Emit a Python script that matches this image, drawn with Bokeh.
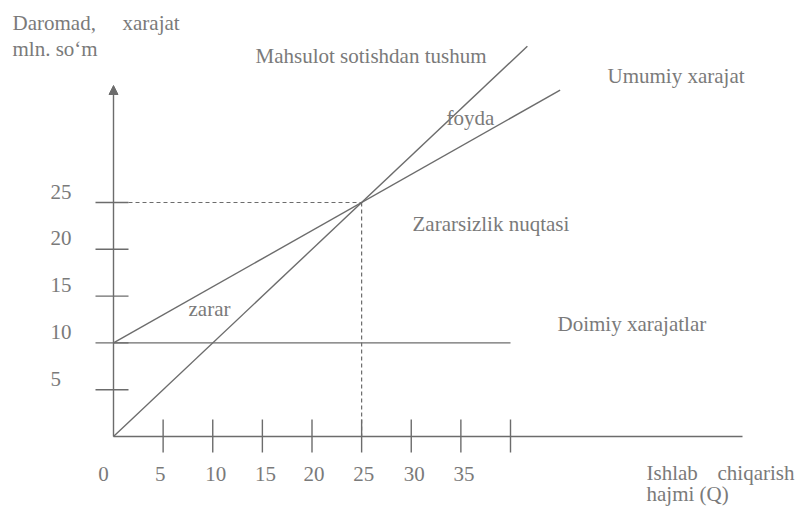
from bokeh.plotting import figure
from bokeh.models import Range1d, Arrow, NormalHead, ColumnDataSource
from bokeh.core.properties import value
from bokeh.embed import file_html
from bokeh.resources import INLINE

# --- values of the break-even diagram (mln. so'm against output Q) ---
x_ticks = [5, 10, 15, 20, 25, 30, 35, 40]
x_tick_labels = ["0", "5", "10", "15", "20", "25", "30", "35"]
x_label_values = [0, 5, 10, 15, 20, 25, 30, 35]
y_ticks = [5, 10, 15, 20, 25]
y_tick_labels = ["5", "10", "15", "20", "25"]

revenue_q = [0, 41.7]          # Mahsulot sotishdan tushum
revenue = [0, 41.7]
total_cost_q = [0, 45]         # Umumiy xarajat
total_cost = [10, 37]
fixed_cost_q = [0, 40]         # Doimiy xarajatlar
fixed_cost = [10, 10]
break_even_q = 25              # Zararsizlik nuqtasi
break_even_value = 25

# --- pixel layout helpers ---
W, H = 800, 507
X0, SX = 113.0, 9.925
Y0, SY = 436.0, 9.36


def dx(px):
    return (px - X0) / SX


def dy(py):
    return (Y0 - py) / SY


LINE = "#6c6c6c"
TEXT = "#7a7a7a"
FONT = value("'Liberation Serif', 'Times New Roman', serif")
FS = "21px"

p = figure(width=W, height=H, output_backend="svg", toolbar_location=None,
           x_axis_type=None, y_axis_type=None,
           x_range=Range1d(dx(0), dx(W)), y_range=Range1d(dy(H), dy(0)),
           min_border=0, background_fill_color="white",
           border_fill_color="white")
p.grid.visible = False
p.outline_line_color = None

# axes
p.line([0, dx(742)], [0, 0], line_color=LINE, line_width=1.4)
p.add_layout(Arrow(end=NormalHead(size=9, fill_color=LINE, line_color=LINE),
                   x_start=0, y_start=0, x_end=0, y_end=dy(85),
                   line_color=LINE, line_width=1.4))

# tick marks
p.segment(x0=x_ticks, x1=x_ticks, y0=[dy(419)] * len(x_ticks),
          y1=[dy(452)] * len(x_ticks), line_color=LINE, line_width=1.4)
p.segment(x0=[dx(95)] * len(y_ticks), x1=[dx(128)] * len(y_ticks),
          y0=y_ticks, y1=y_ticks, line_color=LINE, line_width=1.4)

# tick labels (the "0" sits left of the origin)
x_label_shift = [-10, -3, 3, 3, 2, 2, 3, 3]
xl = ColumnDataSource(dict(x=x_label_values, y=[0] * len(x_label_values),
                           text=x_tick_labels, dxo=x_label_shift))
p.text(x="x", y="y", text="text", source=xl, x_offset="dxo", y_offset=37,
       text_font=FONT, text_font_size=FS, text_color=TEXT,
       text_align="center", text_baseline="middle")
p.text(x=[dx(50)] * len(y_ticks), y=y_ticks, text=y_tick_labels,
       text_font=FONT, text_font_size=FS, text_color=TEXT,
       text_align="left", text_baseline="middle", y_offset=-11)

# break-even guide lines
p.line([dx(128), break_even_q], [break_even_value, break_even_value],
       line_color=LINE, line_width=1.2, line_dash="4 3")
p.line([break_even_q, break_even_q], [break_even_value, 0],
       line_color=LINE, line_width=1.2, line_dash="4 3")

# revenue and cost lines
p.line(fixed_cost_q, fixed_cost, line_color=LINE, line_width=1.4)
p.line(total_cost_q, total_cost, line_color=LINE, line_width=1.4)
p.line(revenue_q, revenue, line_color=LINE, line_width=1.4)

# annotations
labels = ColumnDataSource(dict(
    x=[dx(12), dx(122), dx(12), dx(255), dx(607), dx(446), dx(412),
       dx(188), dx(557), dx(646), dx(717), dx(646)],
    y=[dy(22), dy(22), dy(48), dy(55), dy(75), dy(117), dy(223),
       dy(308), dy(323), dy(472), dy(472), dy(493)],
    text=["Daromad,", "xarajat", "mln. so\u2018m", "Mahsulot sotishdan tushum",
          "Umumiy xarajat", "foyda", "Zararsizlik nuqtasi", "zarar",
          "Doimiy xarajatlar", "Ishlab", "chiqarish", "hajmi (Q)"],
))
p.text(x="x", y="y", text="text", source=labels, text_font=FONT,
       text_font_size=FS, text_color=TEXT, text_align="left",
       text_baseline="middle")

open("out.html", "w").write(file_html(p, INLINE))
